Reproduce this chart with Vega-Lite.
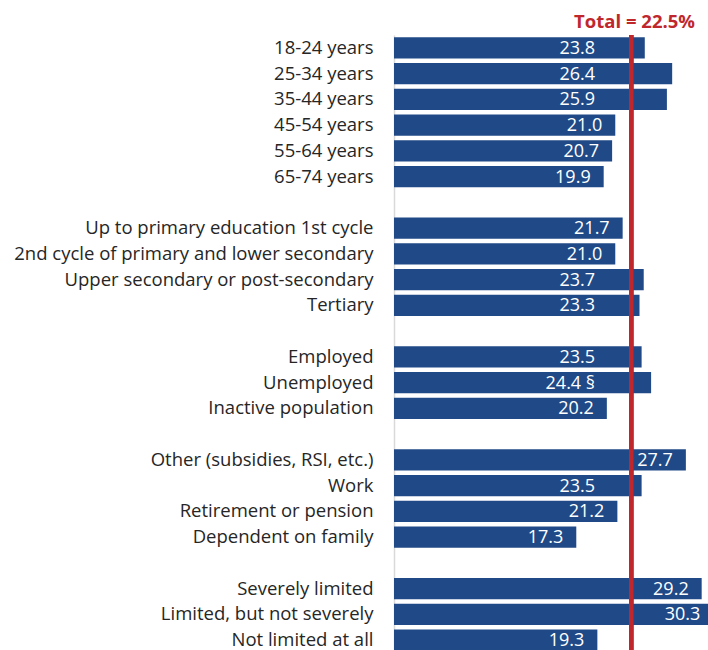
{
  "$schema": "https://vega.github.io/schema/vega-lite/v6.json",
  "autosize": {"type": "none"},
  "padding": {"left": 394, "top": 35, "right": 0, "bottom": 0},
  "width": 314,
  "height": 618,
  "background": "white",
  "title": {
    "text": "Total = 22.5%",
    "anchor": "end",
    "frame": "group",
    "color": "#C0272D",
    "fontSize": 18.5,
    "fontWeight": "bold",
    "font": "Open Sans",
    "dx": -13,
    "offset": 2
  },
  "config": {
    "view": {"stroke": null},
    "font": "Open Sans"
  },
  "data": {
    "values": [
      {"category": "18-24 years", "value": 23.8, "label": "23.8"},
      {"category": "25-34 years", "value": 26.4, "label": "26.4"},
      {"category": "35-44 years", "value": 25.9, "label": "25.9"},
      {"category": "45-54 years", "value": 21.0, "label": "21.0"},
      {"category": "55-64 years", "value": 20.7, "label": "20.7"},
      {"category": "65-74 years", "value": 19.9, "label": "19.9"},
      {"category": "Up to primary education 1st cycle", "value": 21.7, "label": "21.7"},
      {"category": "2nd cycle of primary and lower secondary", "value": 21.0, "label": "21.0"},
      {"category": "Upper secondary or post-secondary", "value": 23.7, "label": "23.7"},
      {"category": "Tertiary", "value": 23.3, "label": "23.3"},
      {"category": "Employed", "value": 23.5, "label": "23.5"},
      {"category": "Unemployed", "value": 24.4, "label": "24.4 §"},
      {"category": "Inactive population", "value": 20.2, "label": "20.2"},
      {"category": "Other (subsidies, RSI, etc.)", "value": 27.7, "label": "27.7"},
      {"category": "Work", "value": 23.5, "label": "23.5"},
      {"category": "Retirement or pension", "value": 21.2, "label": "21.2"},
      {"category": "Dependent on family", "value": 17.3, "label": "17.3"},
      {"category": "Severely limited", "value": 29.2, "label": "29.2"},
      {"category": "Limited, but not severely", "value": 30.3, "label": "30.3"},
      {"category": "Not limited at all", "value": 19.3, "label": "19.3"}
    ]
  },
  "layer": [
    {
      "mark": {"type": "bar", "color": "#204A87", "clip": true},
      "encoding": {
        "y": {
          "field": "category",
          "type": "nominal",
          "scale": {
            "domain": [
              "18-24 years", "25-34 years", "35-44 years", "45-54 years", "55-64 years", "65-74 years", " ",
              "Up to primary education 1st cycle", "2nd cycle of primary and lower secondary", "Upper secondary or post-secondary", "Tertiary", "  ",
              "Employed", "Unemployed", "Inactive population", "   ",
              "Other (subsidies, RSI, etc.)", "Work", "Retirement or pension", "Dependent on family", "    ",
              "Severely limited", "Limited, but not severely", "Not limited at all"
            ],
            "paddingInner": 0.18,
            "paddingOuter": 0.09
          },
          "axis": {
            "title": null,
            "ticks": false,
            "grid": false,
            "domainColor": "#D9D9D9",
            "domainWidth": 1.5,
            "labelFontSize": 18.5,
            "labelFont": "Open Sans",
            "labelColor": "#262626",
            "labelPadding": 21,
            "labelLimit": 400
          }
        },
        "x": {
          "field": "value",
          "type": "quantitative",
          "scale": {"domain": [0, 29.8], "nice": false, "zero": true},
          "axis": null
        }
      }
    },
    {
      "mark": {"type": "rule", "color": "#C0272D", "strokeWidth": 4},
      "encoding": {
        "x": {"datum": 22.5, "type": "quantitative"}
      }
    },
    {
      "transform": [{"filter": "datum.value < 22.5 || datum.value > 27"}],
      "mark": {"type": "text", "align": "right", "dx": -13, "dy": 1, "color": "white", "fontSize": 18, "font": "Open Sans", "baseline": "middle"},
      "encoding": {
        "y": {"field": "category", "type": "nominal"},
        "x": {"field": "value", "type": "quantitative"},
        "text": {"field": "label"}
      }
    },
    {
      "transform": [{"filter": "datum.value >= 22.5 && datum.value <= 27"}],
      "mark": {"type": "text", "align": "right", "dx": -36, "dy": 1, "color": "white", "fontSize": 18, "font": "Open Sans", "baseline": "middle"},
      "encoding": {
        "y": {"field": "category", "type": "nominal"},
        "x": {"datum": 22.5, "type": "quantitative"},
        "text": {"field": "label"}
      }
    }
  ]
}
